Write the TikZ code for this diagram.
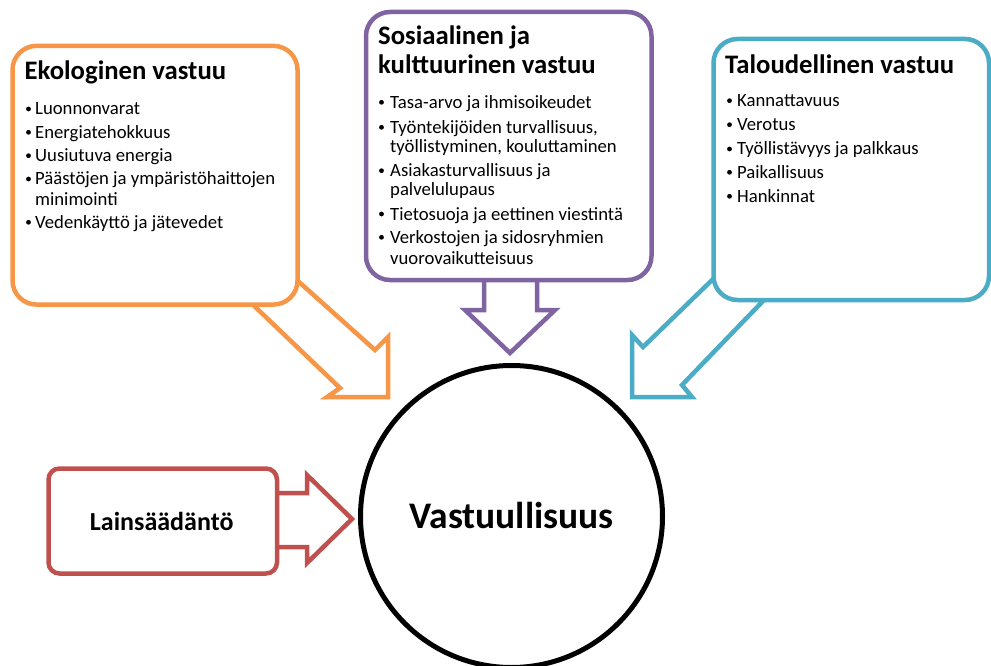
\documentclass[tikz,border=0pt]{standalone}
\usepackage{fontspec}
\setmainfont{Carlito}
\definecolor{orng}{HTML}{F79646}
\definecolor{purp}{HTML}{8064A2}
\definecolor{tealc}{HTML}{4BACC6}
\definecolor{redc}{HTML}{C0504D}
\newcommand\bitem[5]{%
  \node[bul] (#1b) at (#2+1.5,#4-6) {};
  \node[itm] (#1) at (#3,#4) {#5};}
\newcommand\contline[4]{\node[itm] (#1) at (#2,#3) {#4};}
\begin{document}
\begin{tikzpicture}[x=1pt,y=-1pt,
  boxst/.style={line width=4.5pt, fill=white, rounded corners=24pt, inner sep=0pt},
  arr/.style={line width=4.5pt, fill=white, line join=miter},
  ttl/.style={anchor=base west, inner sep=0pt, font=\fontsize{26.7}{28}\selectfont\bfseries},
  itm/.style={anchor=base west, inner sep=0pt, font=\fontsize{18.7}{20}\selectfont},
  bul/.style={circle, fill=black, inner sep=0pt, minimum size=4.8pt}]
\useasboundingbox (0,0) rectangle (991,666);
% arrows (under the boxes)
\draw[arr, draw=orng] (226,279) -- (340,388) -- (327,397) -- (388,397) -- (388,337) -- (375,350) -- (270,256) -- cycle;
\draw[arr, draw=purp] (484,250) -- (484,310) -- (465,310) -- (510,353) -- (555,310) -- (537,310) -- (537,250) -- cycle;
\draw[arr, draw=tealc] (632,397) -- (632,335) -- (643,347) -- (742,251) -- (790,273) -- (682,385) -- (692,397) -- cycle;
\draw[arr, draw=redc] (250,493) -- (307,493) -- (307,475) -- (352,519) -- (307,563) -- (307,547) -- (250,547) -- cycle;
% boxes
\node[boxst, draw=orng, minimum width=285pt, minimum height=258.7pt] (eko) at (155,175.2) {};
\node[boxst, draw=purp, minimum width=285.5pt, minimum height=268pt] (sos) at (508.75,146) {};
\node[boxst, draw=tealc, minimum width=275.5pt, minimum height=261pt] (tal) at (851.25,169.5) {};
\node[boxst, draw=redc, rounded corners=11pt, minimum width=228.5pt, minimum height=105pt] (lain) at (162.75,521) {};
\node[draw=black, line width=5pt, circle, minimum size=302pt, inner sep=0pt, fill=white] (vast) at (511.5,516.5) {};
% texts
\node[ttl] (ekot) at (24.5,80) {Ekologinen vastuu};
\bitem{o1}{27}{35}{115}{Luonnonvarat}
\bitem{o2}{27}{35}{138.3}{Energiatehokkuus}
\bitem{o3}{27}{35}{161.7}{Uusiutuva energia}
\bitem{o4}{27}{35}{185}{Päästöjen ja ympäristöhaittojen}
\contline{o4x}{35}{205}{minimointi}
\bitem{o5}{27}{35}{228.3}{Vedenkäyttö ja jätevedet}

\node[ttl] (sost) at (378,45) {Sosiaalinen ja};
\node[ttl] (sost2) at (378,73.3) {kulttuurinen vastuu};
\bitem{p1}{380}{390}{108.3}{Tasa-arvo ja ihmisoikeudet}
\bitem{p2}{380}{390}{133.3}{Työntekijöiden turvallisuus,}
\contline{p2x}{390}{152.5}{työllistyminen, kouluttaminen}
\bitem{p3}{380}{390}{176.7}{Asiakasturvallisuus ja}
\contline{p3x}{390}{196}{palvelulupaus}
\bitem{p4}{380}{390}{220}{Tietosuoja ja eettinen viestintä}
\bitem{p5}{380}{390}{243.3}{Verkostojen ja sidosryhmien}
\contline{p5x}{390}{264}{vuorovaikutteisuus}

\node[ttl] (talt) at (725,73.3) {Taloudellinen vastuu};
\bitem{t1}{728}{737}{106.7}{Kannattavuus}
\bitem{t2}{728}{737}{130.7}{Verotus}
\bitem{t3}{728}{737}{155}{Työllistävyys ja palkkaus}
\bitem{t4}{728}{737}{178.3}{Paikallisuus}
\bitem{t5}{728}{737}{202.3}{Hankinnat}

\node[anchor=base, inner sep=0pt, font=\fontsize{26}{28}\selectfont\bfseries] (laint) at (161.7,530) {Lainsäädäntö};
\node[anchor=base, inner sep=0pt, font=\fontsize{37.5}{40}\selectfont\bfseries] (vastt) at (511.5,528) {Vastuullisuus};
\end{tikzpicture}
\end{document}
